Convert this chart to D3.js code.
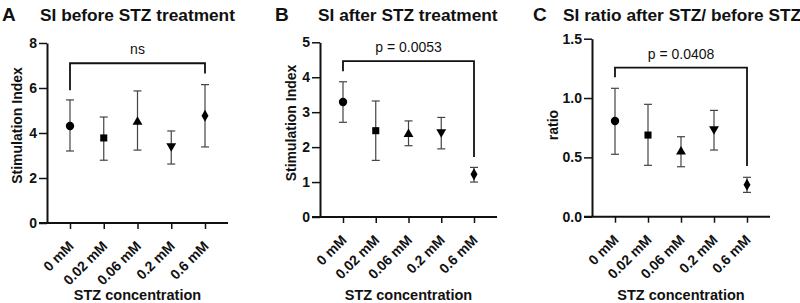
<!DOCTYPE html>
<meta charset="utf-8">
<style>
    body { margin: 0; background: #fff; }
    text { font-family: "Liberation Sans", Arial, sans-serif; font-weight: bold; fill: #111; }
</style>
<div id="chart"></div>
<script src="https://d3js.org/d3.v7.min.js"></script>
<script>

    // categories (STZ concentration)
    var categories = ["0 mM", "0.02 mM", "0.06 mM", "0.2 mM", "0.6 mM"];
    var markers = [d3.symbolCircle, d3.symbolSquare, d3.symbolTriangle, "down", d3.symbolDiamond];

    // A: SI before STZ
    var beforeMean = [4.31, 3.78, 4.49, 3.42, 4.77];
    var beforeLow = [3.20, 2.79, 3.24, 2.62, 3.38];
    var beforeHigh = [5.47, 4.71, 5.87, 4.09, 6.15];
    var beforeTicks = [0, 2, 4, 6, 8];

    // B: SI after STZ
    var afterMean = [3.29, 2.47, 2.37, 2.43, 1.22];
    var afterLow = [2.71, 1.62, 2.04, 1.95, 1.00];
    var afterHigh = [3.87, 3.32, 2.75, 2.85, 1.42];
    var afterTicks = [0, 1, 2, 3, 4, 5];

    // C: ratio after / before
    var ratioMean = [0.806, 0.688, 0.548, 0.739, 0.270];
    var ratioLow = [0.526, 0.433, 0.421, 0.562, 0.205];
    var ratioHigh = [1.082, 0.947, 0.674, 0.896, 0.332];
    var ratioTicks = [0, 0.5, 1.0, 1.5];

    // significance brackets: [bar level, left leg end, right leg end]
    var bracketA = [7.1, 5.9, 6.65];
    var bracketB = [4.46, 4.17, 1.72];
    var bracketC = [1.256, 1.175, 0.427];

    var svg = d3.select("#chart").append("svg")
        .attr("width", 800)
        .attr("height", 303);

    function drawPanel(p) {
        var g = svg.append("g");

        var x = d3.scalePoint()
            .domain(categories)
            .range([p.left + 23, p.right - 23]);
        var y = d3.scaleLinear()
            .domain([0, p.ymax])
            .range([p.bottom, p.top]);

        // y axis
        var yAxis = g.append("g")
            .attr("transform", "translate(" + p.left + ",0)")
            .call(d3.axisLeft(y).tickValues(p.ticks).tickSize(8).tickSizeOuter(0).tickFormat(p.fmt));
        yAxis.select(".domain").attr("stroke", "#111").attr("stroke-width", 2);
        yAxis.selectAll(".tick line").attr("stroke", "#111").attr("stroke-width", 1.5);
        yAxis.selectAll(".tick text")
            .attr("x", -10)
            .style("font-size", "14px")
            .style("font-family", "Liberation Sans, Arial, sans-serif")
            .style("font-weight", "bold")
            .attr("fill", "#111");

        // x axis
        var xAxis = g.append("g")
            .attr("transform", "translate(0," + p.bottom + ")")
            .call(d3.axisBottom(x).tickSize(6).tickSizeOuter(0));
        xAxis.select(".domain")
            .attr("d", "M" + (p.left - 8) + ",0H" + p.right)
            .attr("stroke", "#111").attr("stroke-width", 2);
        xAxis.selectAll(".tick line").attr("stroke", "#111").attr("stroke-width", 1.5);
        xAxis.selectAll(".tick text")
            .attr("y", 0).attr("dy", 0)
            .attr("transform", "translate(4,24) rotate(-45)")
            .style("text-anchor", "end")
            .style("font-size", "14px")
            .style("font-family", "Liberation Sans, Arial, sans-serif")
            .style("font-weight", "bold")
            .attr("fill", "#111");

        // error bars
        categories.forEach(function (c, i) {
            var cx = x(c);
            g.append("line")
                .attr("x1", cx).attr("x2", cx)
                .attr("y1", y(p.low[i])).attr("y2", y(p.high[i]))
                .attr("stroke", "#444").attr("stroke-width", 1.2);
            [p.low[i], p.high[i]].forEach(function (v) {
                g.append("line")
                    .attr("x1", cx - 4).attr("x2", cx + 4)
                    .attr("y1", y(v)).attr("y2", y(v))
                    .attr("stroke", "#444").attr("stroke-width", 1.2);
            });

            // marker
            var m = markers[i];
            var sym = m === "down" ? d3.symbolTriangle : m;
            var size = m === d3.symbolCircle ? 55 : m === d3.symbolSquare ? 50 : 42;
            var rot = m === "down" ? " rotate(180)" : "";
            g.append("path")
                .attr("d", d3.symbol().type(sym).size(size)())
                .attr("transform", "translate(" + cx + "," + y(p.mean[i]) + ")" + rot)
                .attr("fill", "#000");
        });

        // significance bracket
        var xl = x(categories[0]), xr = x(categories[4]);
        g.append("path")
            .attr("d", "M" + xl + "," + y(p.bracket[1]) + "V" + y(p.bracket[0]) +
                "H" + xr + "V" + y(p.bracket[2]))
            .attr("fill", "none")
            .attr("stroke", "#111")
            .attr("stroke-width", 1.8);
        g.append("text")
            .attr("x", (xl + xr) / 2)
            .attr("y", y(p.bracket[0]) - 9)
            .attr("text-anchor", "middle")
            .style("font-weight", "normal")
            .style("font-size", "14px")
            .text(p.sig);

        // y label
        g.append("text")
            .attr("transform", "translate(" + p.ylabX + "," + p.ylabY + ") rotate(-90)")
            .attr("text-anchor", "middle")
            .attr("dy", "0.35em")
            .style("font-size", "14px")
            .text(p.ylabel);

        // x label
        g.append("text")
            .attr("x", (p.left + p.right) / 2)
            .attr("y", 300)
            .attr("text-anchor", "middle")
            .style("font-size", "14.5px")
            .text("STZ concentration");

        // panel letter and title
        g.append("text")
            .attr("x", p.letterX)
            .attr("y", 21)
            .style("font-size", "19px")
            .text(p.letter);
        g.append("text")
            .attr("x", p.titleX)
            .attr("y", 20.5)
            .style("font-size", "17.3px")
            .text(p.title);
    }

    drawPanel({
        left: 47, right: 228, top: 43, bottom: 223, ymax: 8,
        ticks: beforeTicks, fmt: d3.format("d"),
        mean: beforeMean, low: beforeLow, high: beforeHigh,
        bracket: bracketA, sig: "ns",
        ylabel: "Stimulation Index", ylabX: 17.5, ylabY: 125.5,
        letter: "A", letterX: 2, title: "SI before STZ treatment", titleX: 40
    });
    drawPanel({
        left: 320, right: 497, top: 42.3, bottom: 217, ymax: 5,
        ticks: afterTicks, fmt: d3.format("d"),
        mean: afterMean, low: afterLow, high: afterHigh,
        bracket: bracketB, sig: "p = 0.0053",
        ylabel: "Stimulation Index", ylabX: 291, ylabY: 123,
        letter: "B", letterX: 275, title: "SI after STZ treatment", titleX: 318
    });
    drawPanel({
        left: 592, right: 770, top: 38.7, bottom: 216.7, ymax: 1.5,
        ticks: ratioTicks, fmt: d3.format(".1f"),
        mean: ratioMean, low: ratioLow, high: ratioHigh,
        bracket: bracketC, sig: "p = 0.0408",
        ylabel: "ratio", ylabX: 553, ylabY: 125,
        letter: "C", letterX: 533, title: "SI ratio after STZ/ before STZ", titleX: 563
    });

</script>
